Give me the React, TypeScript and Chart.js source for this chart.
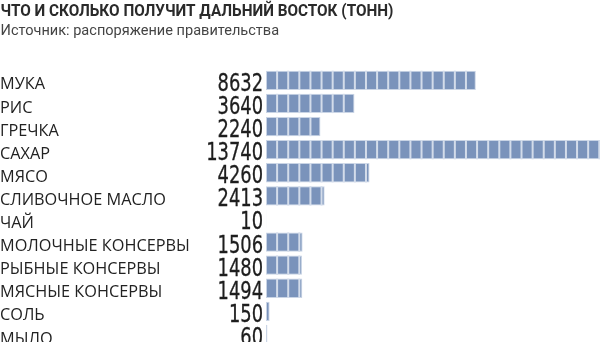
import React, { useEffect, useRef } from "react";
import { Chart, registerables } from "chart.js";

Chart.register(...registerables);

const titleText = "ЧТО И СКОЛЬКО ПОЛУЧИТ ДАЛЬНИЙ ВОСТОК (ТОНН)";
const subtitleText = "Источник: распоряжение правительства";
const categories = [
  "МУКА",
  "РИС",
  "ГРЕЧКА",
  "САХАР",
  "МЯСО",
  "СЛИВОЧНОЕ МАСЛО",
  "ЧАЙ",
  "МОЛОЧНЫЕ КОНСЕРВЫ",
  "РЫБНЫЕ КОНСЕРВЫ",
  "МЯСНЫЕ КОНСЕРВЫ",
  "СОЛЬ",
  "МЫЛО",
];
const tons = [8632, 3640, 2240, 13740, 4260, 2413, 10, 1506, 1480, 1494, 150, 60];
const blockTons = 457;
const axisMax = 13740;

const BAR_COLOR = "#7a93bb";
const SEP_COLOR = "#d3dcea";
const NUM_FONT = "'DejaVu Sans Condensed', sans-serif";

function scaledText(ctx: any, text: string, x: number, y: number, sx: number, align: string, stroke = 0) {
  ctx.save();
  ctx.translate(x, y);
  ctx.scale(sx, 1);
  ctx.textAlign = align;
  ctx.textBaseline = "alphabetic";
  ctx.fillText(text, 0, 0);
  if (stroke > 0) {
    ctx.lineWidth = stroke;
    ctx.strokeStyle = ctx.fillStyle;
    ctx.strokeText(text, 0, 0);
  }
  ctx.restore();
}

const headerPlugin = {
  id: "header",
  afterDraw(chart: any) {
    const ctx = chart.ctx;
    ctx.save();
    ctx.fillStyle = "#2a2a2a";
    ctx.font = "bold 17px Roboto";
    scaledText(ctx, titleText, 0.5, 15.5, 0.9, "left");
    ctx.fillStyle = "#444";
    ctx.font = "15px Roboto";
    scaledText(ctx, subtitleText, 0.5, 35, 0.97, "left");
    ctx.restore();
  },
};

const blocksPlugin = {
  id: "blocks",
  afterDatasetsDraw(chart: any) {
    const ctx = chart.ctx;
    const meta = chart.getDatasetMeta(0);
    const xs = chart.scales.x;
    const area = chart.chartArea;
    ctx.save();
    meta.data.forEach((el: any, i: number) => {
      const v = tons[i];
      const h = el.height;
      const top = el.y - h / 2;
      const end = el.x;
      ctx.fillStyle = SEP_COLOR;
      for (let s = blockTons; s < v; s += blockTons) {
        const px = xs.getPixelForValue(s);
        if (px < end - 0.5) ctx.fillRect(px - 1, top, 2, h);
      }
      ctx.fillStyle = "#1e1e1e";
      ctx.font = `25px ${NUM_FONT}`;
      scaledText(ctx, String(v), area.left - 3, el.y + 10.5, 0.795, "right", 0.3);
    });
    ctx.restore();
  },
};

export default function App() {
  const ref = useRef<HTMLCanvasElement | null>(null);
  useEffect(() => {
    if (!ref.current) return;
    const chart = new Chart(ref.current, {
      type: "bar",
      data: {
        labels: categories,
        datasets: [
          {
            data: tons,
            backgroundColor: BAR_COLOR,
            borderColor: "#c9d4e5",
            borderWidth: 1,
            borderSkipped: false,
            categoryPercentage: 1,
            barPercentage: 0.835,
          },
        ],
      },
      options: {
        indexAxis: "y",
        animation: false,
        responsive: false,
        layout: { padding: { top: 68.8, left: 0, right: 0, bottom: 0 } },
        plugins: {
          legend: { display: false },
          tooltip: { enabled: false },
          title: { display: false },
        },
        scales: {
          x: {
            display: false,
            min: 0,
            max: axisMax,
          },
          y: {
            grid: { display: false },
            border: { display: false },
            ticks: {
              color: "#222",
              font: { family: "'Open Sans'", size: 16.3 },
              crossAlign: "far",
              padding: 0,
              labelOffset: 4.5,
            },
            afterFit(scale: any) {
              scale.width = 266;
              scale.paddingTop = 0;
              scale.paddingBottom = 0;
            },
          },
        },
      },
      plugins: [blocksPlugin, headerPlugin],
    });
    return () => chart.destroy();
  }, []);
  return (
    <div style={{ position: "absolute", left: 0, top: 0, width: 600, height: 346 }}>
      <canvas ref={ref} width={600} height={346} style={{ display: "block" }} />
    </div>
  );
}
